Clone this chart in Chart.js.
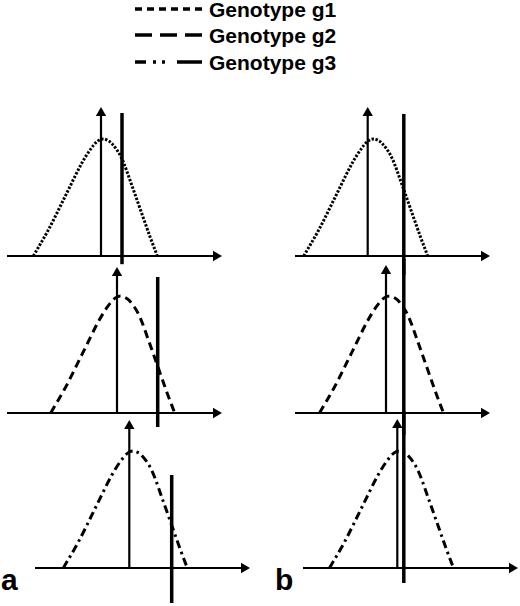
<!DOCTYPE html>
<html>
<head>
<meta charset="utf-8">
<script src="https://cdn.jsdelivr.net/npm/chart.js@4.4.1/dist/chart.umd.min.js"></script>
<style>
html,body{margin:0;padding:0;background:#fff;}
#fig{position:relative;width:520px;height:606px;overflow:hidden;font-family:"Liberation Sans",Arial,Helvetica,sans-serif;color:#000;}
#fig canvas{position:absolute;}
.leg{position:absolute;left:209px;font-size:21px;font-weight:bold;line-height:21px;white-space:nowrap;}
.lab{position:absolute;font-size:30px;font-weight:bold;line-height:30px;}
#legsvg{position:absolute;left:0;top:0;}
</style>
</head>
<body>
<div id="fig">
  <svg id="legsvg" width="520" height="80"></svg>
</div>
<script>
// ---------- data (trait units on x, relative density on y) ----------
const genotypes = ['Genotype g1', 'Genotype g2', 'Genotype g3'];
const panelLabels = ['a', 'b'];
// panels: a1 a2 a3 b1 b2 b3 (row = genotype)
const panelGenotype = [0, 1, 2, 0, 1, 2];
const axisStart = [0.7, 0.7, 3.5, 3.5, 3.5, 4.3];
const axisEnd = [21.6, 21.6, 24.4, 22.4, 22.4, 25.2];
const meanValue = [10.1, 11.7, 12.93, 10.77, 12.6, 13.73];
const meanArrowTop = [1.222, 1.197, 1.214, 1.222, 1.214, 1.222];
const modeValue = [10.33, 12.07, 13.33, 11.37, 12.95, 13.95];
const thresholdValue = [12.2, 15.77, 17.17, 14.38, 14.38, 14.38];
const thresholdTop = [1.222, 1.162, 0.795, 1.214, 1.32, 1.34];
const thresholdBottom = [-0.07, -0.12, -0.30, -0.2, -0.2, -0.128];
// distribution profile: offset from mode, relative density
const profileOffset = [-7.0, -5.5, -3.83, -2.16, -1.33, -0.6, 0, 0.4, 0.84, 1.84, 2.84, 3.84, 4.67, 5.4];
const profileDensity = [0, 0.222, 0.507, 0.792, 0.906, 0.98, 1.0, 0.99, 0.963, 0.835, 0.607, 0.365, 0.165, 0];

// ---------- styles & layout ----------
const curveDash = [[2.4, 1.6], [8, 5], [8, 4, 2.5, 4]];
const curveWidth = [3, 3, 3];
const legendDash = ['7 5', '17 8', '11 7 3 6 3 12 25 100'];
const legendY = [9, 35, 62];
const legendTextTop = [-1, 25, 52];
const colLeft = [0, 260];
const colWidth = 260;
const pxPerTrait = 10;
const rowTop = [95, 255, 410];
const rowHeight = [180, 180, 196];
const rowBaseline = [256, 413, 568];
const pxPerDensity = 117;
const ink = '#000';

const fig = document.getElementById('fig');
const svg = document.getElementById('legsvg');
const NS = 'http://www.w3.org/2000/svg';

// legend
genotypes.forEach((g, i) => {
  const ln = document.createElementNS(NS, 'line');
  ln.setAttribute('x1', 135); ln.setAttribute('x2', 202);
  ln.setAttribute('y1', legendY[i]); ln.setAttribute('y2', legendY[i]);
  ln.setAttribute('stroke', ink); ln.setAttribute('stroke-width', 3.4);
  ln.setAttribute('stroke-dasharray', legendDash[i]);
  svg.appendChild(ln);
  const t = document.createElement('div');
  t.className = 'leg'; t.style.top = legendTextTop[i] + 'px';
  t.textContent = g;
  fig.appendChild(t);
});

// panel labels
const labLeft = [1, 275];
panelLabels.forEach((l, i) => {
  const d = document.createElement('div');
  d.className = 'lab'; d.textContent = l;
  d.style.left = labLeft[i] + 'px'; d.style.top = '565px';
  fig.appendChild(d);
});

// charts
for (let p = 0; p < 6; p++) {
  const col = Math.floor(p / 3), row = p % 3, g = panelGenotype[p];
  const cv = document.createElement('canvas');
  cv.width = colWidth; cv.height = rowHeight[row];
  cv.style.left = colLeft[col] + 'px'; cv.style.top = rowTop[row] + 'px';
  cv.style.width = colWidth + 'px'; cv.style.height = rowHeight[row] + 'px';
  fig.appendChild(cv);

  const yMax = (rowBaseline[row] - rowTop[row]) / pxPerDensity;
  const yMin = -(rowTop[row] + rowHeight[row] - rowBaseline[row]) / pxPerDensity;

  const curve = profileOffset.map((o, k) => ({ x: modeValue[p] + o, y: profileDensity[k] }));

  new Chart(cv, {
    type: 'line',
    data: {
      datasets: [
        { // horizontal axis with arrow
          data: [{ x: axisStart[p], y: 0 }, { x: axisEnd[p], y: 0 }],
          borderColor: ink, borderWidth: 2,
          pointRadius: [0, 6], pointStyle: 'triangle', pointRotation: 90,
          pointBackgroundColor: ink, pointBorderWidth: 0, clip: false
        },
        { // genotype distribution
          data: curve,
          borderColor: ink, borderWidth: curveWidth[g], borderDash: curveDash[g],
          pointRadius: 0, cubicInterpolationMode: 'monotone', fill: false, clip: false
        },
        { // mean arrow
          data: [{ x: meanValue[p], y: 0 }, { x: meanValue[p], y: meanArrowTop[p] }],
          borderColor: ink, borderWidth: 2.2,
          pointRadius: [0, 6], pointStyle: 'triangle', pointRotation: 0,
          pointBackgroundColor: ink, pointBorderWidth: 0, clip: false
        },
        { // threshold / optimum line
          data: [{ x: thresholdValue[p], y: thresholdBottom[p] }, { x: thresholdValue[p], y: thresholdTop[p] }],
          borderColor: ink, borderWidth: 3.5, pointRadius: 0, clip: false
        }
      ]
    },
    options: {
      responsive: false, animation: false, events: [],
      layout: { padding: 0, autoPadding: false },
      plugins: { legend: { display: false }, tooltip: { enabled: false } },
      scales: {
        x: { type: 'linear', min: 0, max: colWidth / pxPerTrait, display: false },
        y: { type: 'linear', min: yMin, max: yMax, display: false }
      }
    }
  });
}
</script>
</body>
</html>
